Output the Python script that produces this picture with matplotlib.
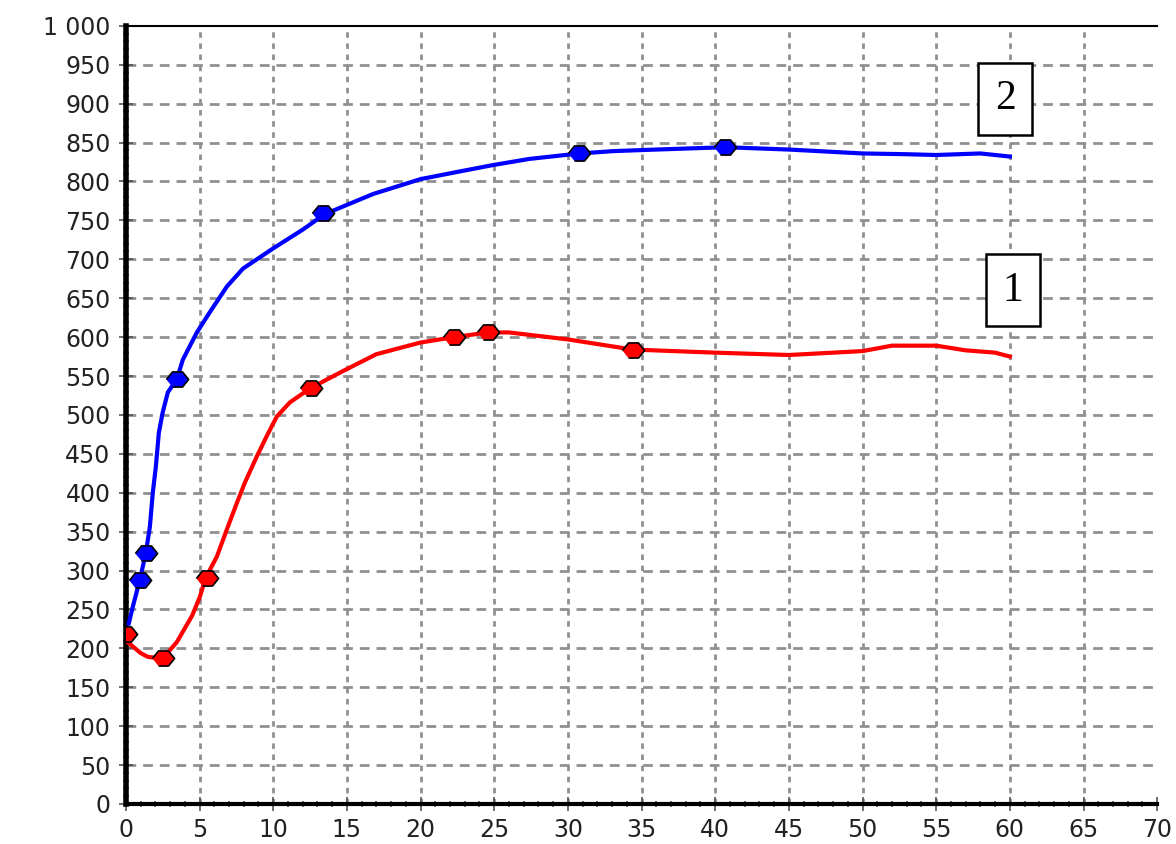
import numpy as np
import matplotlib
matplotlib.use("Agg")
import matplotlib.pyplot as plt
from matplotlib.ticker import MultipleLocator, FuncFormatter

# curve 2 (blue)
t2 = [0.2, 0.48, 0.95, 1.36, 1.63, 1.83, 2.04, 2.24, 2.5, 2.85, 3.46, 3.87, 4.82, 5.7, 6.86, 7.95,
      10, 12, 13.5, 15.4, 16.8, 20, 22.7, 24.9, 27.4, 30.8, 33.1, 36, 40.7, 45, 50, 53, 55, 58, 60]
v2 = [232, 254, 288, 323, 356, 400, 434, 477, 503, 529, 546, 571, 606, 632, 665, 688,
      714, 738, 758, 773, 784, 803, 813, 821, 829, 836, 839, 841, 844, 841, 836, 835, 834, 836, 832]
t2_pts = [0.95, 1.36, 3.46, 13.4, 30.75, 40.7]
v2_pts = [288, 323, 546, 759, 836, 844]

# curve 1 (red)
t1 = [0, 0.5, 1, 1.5, 2.5, 3.46, 4.5, 5.0, 5.43, 6.18, 6.86, 7.54, 8.08, 8.9, 9.57, 10.25, 11.13, 12.5,
      14.7, 17, 20, 22.3, 24.6, 26, 30, 34.4, 40, 45, 50, 52, 55, 57, 59, 60]
v1 = [210, 202, 194, 189, 187, 208, 242, 265, 291, 318, 353, 387, 413, 447, 473, 498, 516, 534,
      556, 578, 593, 600, 606, 606, 597, 584, 580, 577, 582, 589, 589, 583, 580, 575]
t1_pts = [0, 2.5, 5.5, 12.55, 22.3, 24.6, 34.4]
v1_pts = [219, 187, 291, 535, 600, 606, 584]

labels = ["1", "2"]
label_pos = [(60.2, 660), (59.7, 906)]

marker = [(-1, 0), (-0.45, 0.68), (0.45, 0.68), (1, 0), (0.45, -0.68), (-0.45, -0.68)]

fig = plt.figure(figsize=(11.76, 8.44), dpi=100)
ax = fig.add_axes([0.107, 0.0474, 0.877, 0.922])
ax.set_xlim(0, 70)
ax.set_ylim(0, 1000)

for x in range(5, 70, 5):
    ax.axvline(x, color="#909090", lw=2, ls=(0, (2, 2)), zorder=0)
for y in range(50, 1000, 50):
    ax.axhline(y, color="#909090", lw=2, ls=(0, (3.5, 2.5)), zorder=0)

ax.plot(t2, v2, color="#0000ff", lw=3, zorder=3, solid_joinstyle="round")
ax.plot(t2_pts, v2_pts, ls="none", marker=marker, ms=16, mfc="#0000ff", mec="black", mew=1.2, zorder=4)
ax.plot(t1, v1, color="#ff0000", lw=3, zorder=3, solid_joinstyle="round")
ax.plot(t1_pts, v1_pts, ls="none", marker=marker, ms=16, mfc="#ff0000", mec="black", mew=1.2, zorder=4)

for lab, (x, y) in zip(labels, label_pos):
    ax.text(x, y, lab, fontsize=30, family="Liberation Serif", ha="center", va="center",
            bbox=dict(boxstyle="square,pad=0.4", fc="white", ec="black", lw=1.8), zorder=5)

ax.xaxis.set_major_locator(MultipleLocator(5))
ax.xaxis.set_minor_locator(MultipleLocator(1))
ax.yaxis.set_major_locator(MultipleLocator(50))
ax.yaxis.set_minor_locator(MultipleLocator(10))
ax.yaxis.set_major_formatter(FuncFormatter(lambda v, p: "1 000" if v >= 1000 else "%d" % v))

ax.spines["right"].set_visible(False)
ax.spines["left"].set_linewidth(4)
ax.spines["bottom"].set_linewidth(3)
ax.spines["top"].set_linewidth(1.5)
ax.tick_params(which="major", direction="inout", length=10, width=1.2, color="#555555",
               labelsize=17, labelcolor="#222222")
ax.tick_params(which="minor", direction="inout", length=5, width=1.2, color="#555555")
ax.tick_params(axis="x", which="both", top=False, pad=5)
ax.tick_params(axis="y", pad=6)
for lab in ax.get_xticklabels() + ax.get_yticklabels():
    lab.set_family("DejaVu Sans")

fig.savefig("out.png", dpi=100)
